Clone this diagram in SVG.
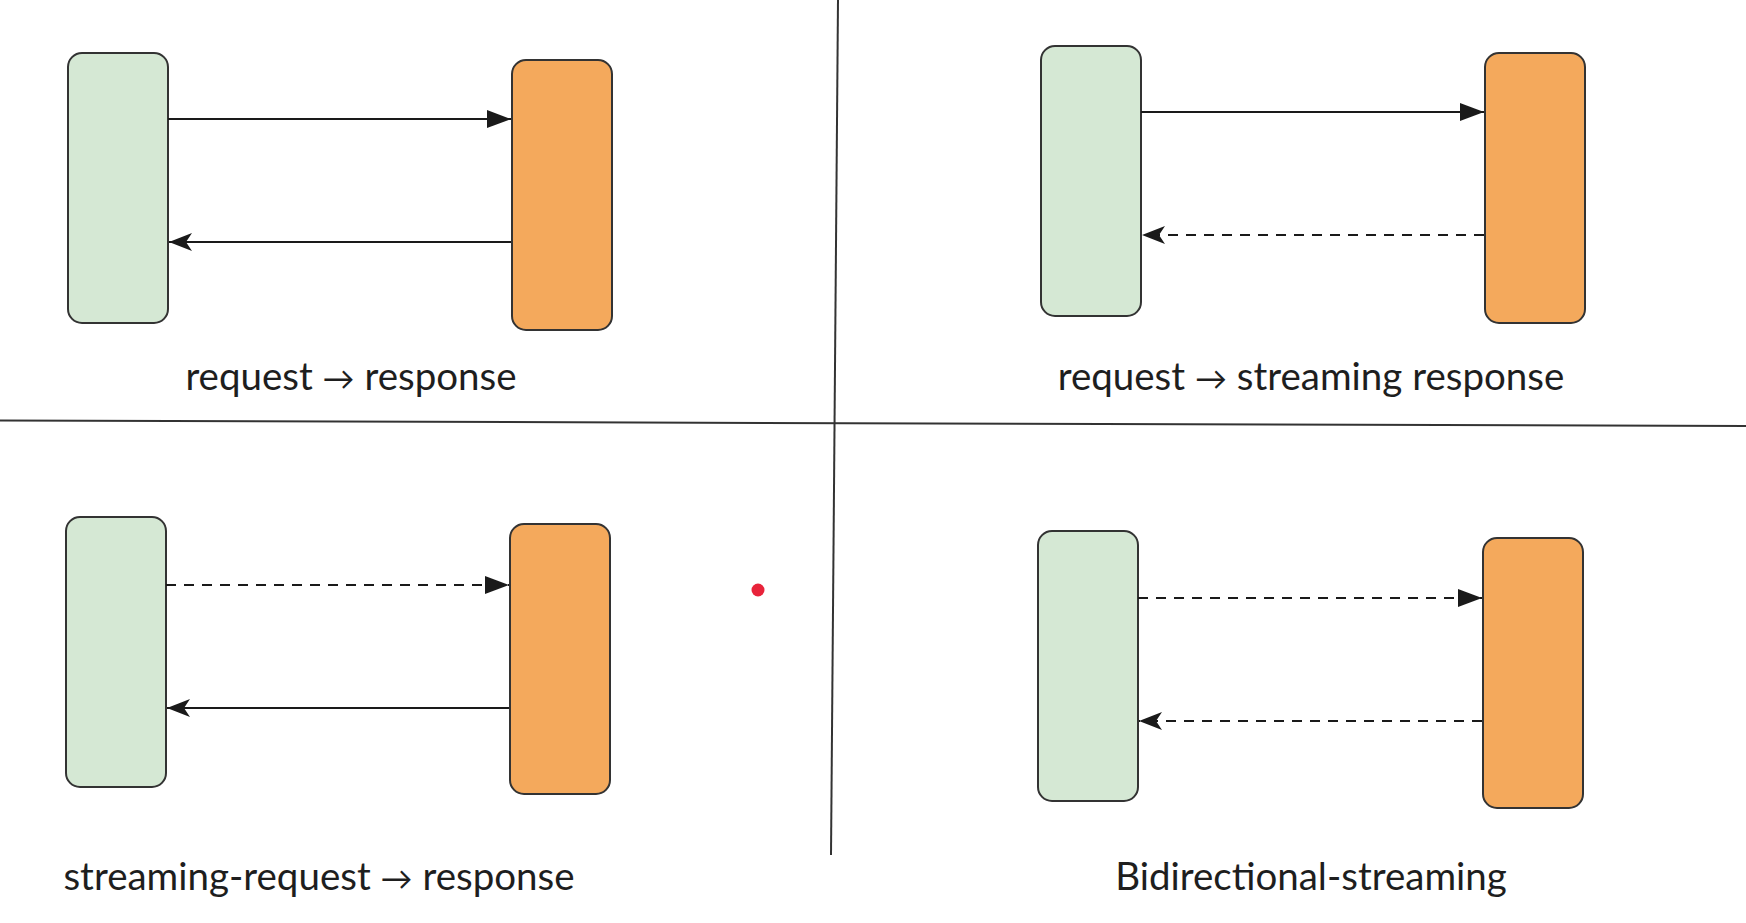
<svg xmlns="http://www.w3.org/2000/svg" width="1746" height="923" viewBox="0 0 1746 923">
<style>
.client{fill:#d5e8d4;stroke:#333;stroke-width:2}
.server{fill:#f4a95c;stroke:#333;stroke-width:2}
.edge{stroke:#1a1a1a;stroke-width:2.2;fill:none}
.dash{stroke-dasharray:10 8}
.div{stroke:#333;stroke-width:2;fill:none}
.lbl{font-family:Lato,"Liberation Sans",sans-serif;font-size:38.5px;fill:#1e1e1e;text-anchor:middle}
.arr{font-size:32px}
</style>
<defs>
<marker id="block" markerUnits="userSpaceOnUse" markerWidth="24" markerHeight="18" refX="24" refY="9" orient="auto">
<path d="M0,0 L24,9 L0,18 Z" fill="#1a1a1a"/>
</marker>
<marker id="classic" markerUnits="userSpaceOnUse" markerWidth="23" markerHeight="18" refX="23" refY="9" orient="auto">
<path d="M0,0 L23,9 L0,18 L6,9 Z" fill="#1a1a1a"/>
</marker>
</defs>
<rect width="1746" height="923" fill="#ffffff"/>
<g id="dividers">
<line class="div" x1="0" y1="420.5" x2="1746" y2="426"/>
<line class="div" x1="838" y1="0" x2="831" y2="855"/>
</g>
<g id="p1-client"><rect class="client" x="68" y="53" width="100" height="270" rx="14"/></g>
<g id="p1-server"><rect class="server" x="512" y="60" width="100" height="270" rx="14"/></g>
<g id="p2-client"><rect class="client" x="1041" y="46" width="100" height="270" rx="14"/></g>
<g id="p2-server"><rect class="server" x="1485" y="53" width="100" height="270" rx="14"/></g>
<g id="p3-client"><rect class="client" x="66" y="517" width="100" height="270" rx="14"/></g>
<g id="p3-server"><rect class="server" x="510" y="524" width="100" height="270" rx="14"/></g>
<g id="p4-client"><rect class="client" x="1038" y="531" width="100" height="270" rx="14"/></g>
<g id="p4-server"><rect class="server" x="1483" y="538" width="100" height="270" rx="14"/></g>
<g id="connectors">
<line class="edge" x1="168" y1="119" x2="511" y2="119" marker-end="url(#block)"/>
<line class="edge" x1="511" y1="242" x2="169" y2="242" marker-end="url(#classic)"/>
<line class="edge" x1="1141" y1="112" x2="1484" y2="112" marker-end="url(#block)"/>
<line class="edge dash" x1="1484" y1="235" x2="1142" y2="235" marker-end="url(#classic)"/>
<line class="edge dash" x1="166" y1="585" x2="509" y2="585" marker-end="url(#block)"/>
<line class="edge" x1="509" y1="708" x2="167" y2="708" marker-end="url(#classic)"/>
<line class="edge dash" x1="1138" y1="598" x2="1482" y2="598" marker-end="url(#block)"/>
<line class="edge dash" x1="1482" y1="721" x2="1139" y2="721" marker-end="url(#classic)"/>
</g>
<g id="labels">
<text class="lbl" x="351" y="390">request <tspan class="arr">→</tspan> response</text>
<text class="lbl" x="1311" y="390">request <tspan class="arr">→</tspan> streaming response</text>
<text class="lbl" x="319" y="890">streaming-request <tspan class="arr">→</tspan> response</text>
<text class="lbl" x="1311" y="890">Bidirectional-streaming</text>
</g>
<circle cx="758" cy="590" r="6.5" fill="#e8233a"/>
</svg>
